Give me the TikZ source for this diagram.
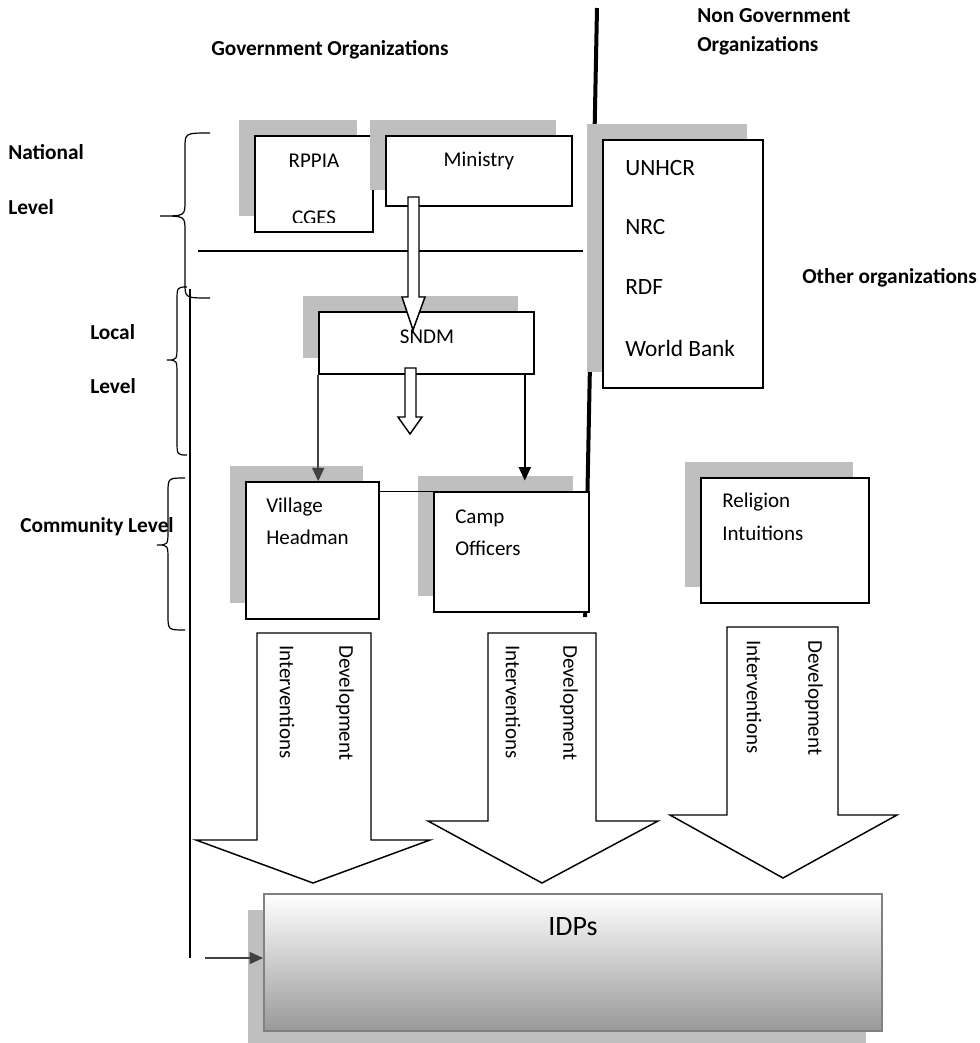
\documentclass[tikz,border=0pt]{standalone}
\usepackage{fontspec}
\setmainfont{Carlito}
\usetikzlibrary{arrows.meta,positioning,fit,shadows}
\newcommand\levelbrace[6]{\draw[brc] (#1,#4) .. controls (#2,#4) .. (#2,{#4+15}) -- (#2,{#5-15}) .. controls (#2,#5) .. (#3,#5) .. controls (#2,#5) .. (#2,{#5+15}) -- (#2,{#6-15}) .. controls (#2,#6) .. (#1,#6);}

\begin{document}
\begin{tikzpicture}[x=0.75pt,y=-0.75pt,
  font=\fontsize{15.75}{19}\selectfont,
  box/.style={draw,line width=1.2pt,fill=white,inner sep=0pt,
    general shadow={fill=black!25,shadow xshift=-12pt,shadow yshift=12pt}},
  idp/.style={draw=black!50,line width=1.5pt,top color=white,bottom color=black!40,inner sep=0pt,
    general shadow={fill=black!25,shadow xshift=-12pt,shadow yshift=-12pt}},
  lbl/.style={anchor=west,inner sep=0pt},
  big/.style={lbl,font=\fontsize{17.5}{21}\selectfont},
  hd/.style={lbl,font=\fontsize{16}{21.75}\selectfont\bfseries,align=left},
  vlbl/.style={rotate=-90,anchor=west,inner sep=0pt},
  hollow/.style={draw,line width=1.1pt,fill=white},
  link/.style={-{Triangle[length=10pt,width=9pt]},line width=1.2pt},
  brc/.style={line width=0.9pt}]
\useasboundingbox (0,0) rectangle (979,1043);

\node[hd,anchor=center] (gov) at (330,50) {Government Organizations};
\node[hd] (ngo) at (697,31.5) {Non Government\\Organizations};
\node[hd] (other) at (802,278) {Other organizations};
\node[hd] (nat1) at (8,152) {National};
\node[hd] (nat2) at (8,207) {Level};
\node[hd] (loc1) at (90,332) {Local};
\node[hd] (loc2) at (90,386) {Level};
\node[hd] (com) at (20,527) {Community Level};

\levelbrace{210}{185}{160}{133}{216}{298}
\levelbrace{187}{177}{167}{287}{360}{455}
\levelbrace{185}{168}{157}{478}{545}{630}

\draw[line width=3pt] (597,8) -- (585,617);
\draw[line width=1.1pt] (198,251) -- (583,251);
\draw[line width=1pt] (190,289) -- (190,958);

\node[box,fit={(255,136) (373,232)}] (rppia) {};
\node[box,fit={(386,136) (572,206)}] (min) {};
\node[box,fit={(603,140) (763,388)}] (ngos) {};
\node[box,fit={(319,312) (534,374)}] (sndm) {};
\node[box,fit={(246,482) (379,619)}] (vh) {};
\node[box,fit={(434,492) (589,612)}] (camp) {};
\node[box,fit={(701,478) (869,603)}] (rel) {};
\node[idp,fit={(264,894) (882,1031)}] (idps) {};

\node[inner sep=0pt] (rppiatxt) at (314,161) {RPPIA};
\begin{scope}
  \clip (255,136) rectangle (373,222);
  \node[inner sep=0pt,anchor=base] (cges) at (314,224) {CGES};
\end{scope}
\node[inner sep=0pt] (mintxt) at (479,161) {Ministry};
\node[big] (unhcr) at (625,168) {UNHCR};
\node[big] (nrc) at (625,227) {NRC};
\node[big] (rdf) at (625,287) {RDF};
\node[big] (wb) at (625,348) {World Bank};
\node[inner sep=0pt] (sndmtxt) at (427,337) {SNDM};
\node[lbl] (vh1) at (266,507) {Village};
\node[lbl] (vh2) at (266,537) {Headman};
\node[lbl] (camp1) at (455,518) {Camp};
\node[lbl] (camp2) at (455,548) {Officers};
\node[lbl] (rel1) at (722,502) {Religion};
\node[lbl] (rel2) at (722,533) {Intuitions};
\node[inner sep=0pt,font=\fontsize{21}{25}\selectfont] (idptxt) at (573,927) {IDPs};

\foreach \l/\r/\t/\b/\hl/\hr/\tx/\ty in {408/419/197/297/402/425/413/330,405/416/368/417/398/422/410/434,
  257/371/633/840/196/430/313/883,488/596/633/821/428/658/542/883,727/838/627/815/670/897/783/878}
  \draw[hollow] (\l,\t) -- (\r,\t) -- (\r,\b) -- (\hr,\b) -- (\tx,\ty) -- (\hl,\b) -- (\l,\b) -- cycle;
\foreach \i/\xi/\xd/\t in {1/287/345/645,2/513/569/645,3/754/814/640} {
  \node[vlbl] (int\i) at (\xi,\t) {Interventions};
  \node[vlbl] (dev\i) at (\xd,\t) {Development};
}

\draw[link,black!75] (sndm.south west) -- (sndm.south west |- vh.north);
\draw[link,shorten >=8pt] ([xshift=-7.5pt]sndm.south east) -- ([xshift=-7.5pt]sndm.south east |- camp.north);
\draw[line width=1pt] (vh.east |- camp.north) -- (camp.north west);
\coordinate (feed) at (205,958);
\draw[link,black!75] (feed) -- (feed -| idps.west);
\end{tikzpicture}
\end{document}
